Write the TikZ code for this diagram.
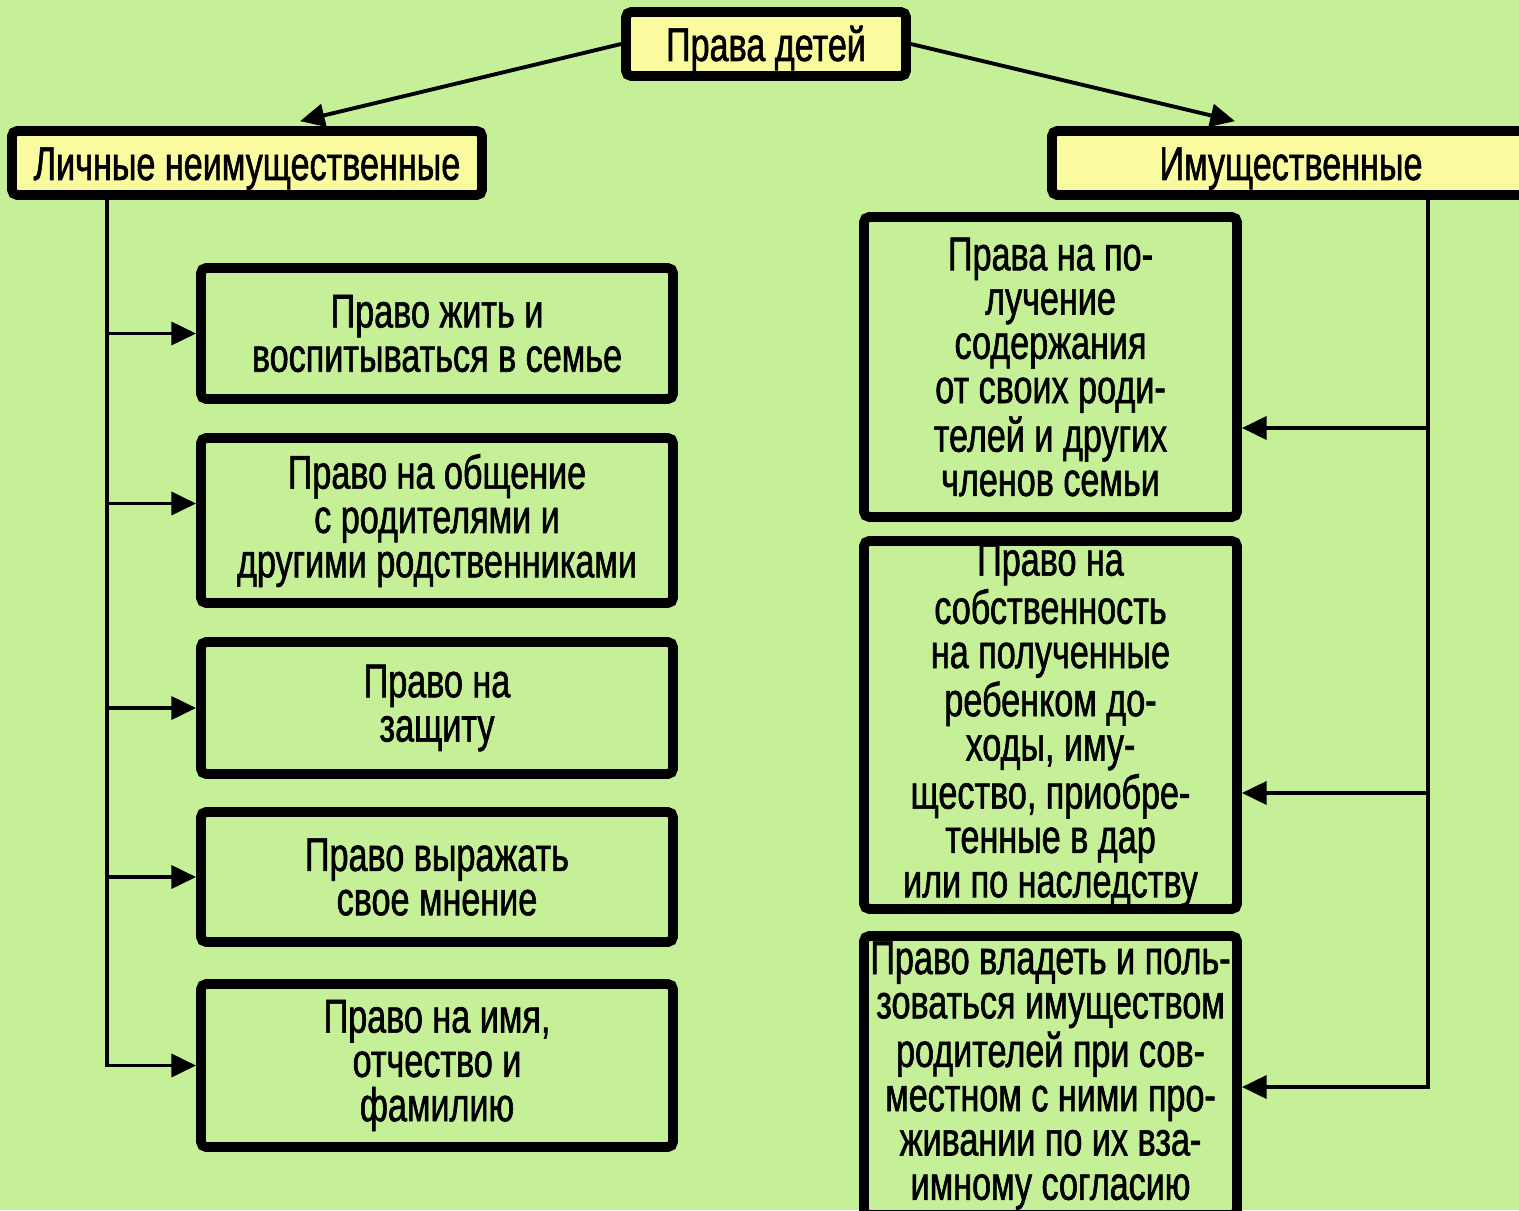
\documentclass[tikz,border=0pt]{standalone}
\usepackage{fontspec}
\setmainfont[FakeStretch=0.72,FakeBold=1.2]{Liberation Sans}
\usepackage{tikz}
\usepackage{xcolor}
\usetikzlibrary{arrows.meta}
\definecolor{bggreen}{RGB}{198,240,152}
\definecolor{hdryellow}{RGB}{250,250,158}
\tikzstyle{hdr} = [rectangle, draw, line width=2.8pt, fill=hdryellow, rounded corners=1.5pt, minimum height=0.64cm, inner sep=0pt, text height=0.42cm, text depth=0.08cm]
\tikzstyle{item} = [rectangle, draw, line width=2.8pt, rounded corners=1.5pt, align=center, inner sep=0pt]

\begin{document}
\begin{tikzpicture}[->,>={Triangle[length=7pt,width=6.5pt]},line width=1.1pt,node distance=1.87cm,font=\fontsize{13.5}{12.6}\selectfont]
  \fill[bggreen] (0,0) rectangle (15.19,-12.10);
  \useasboundingbox (0,0) rectangle (15.19,-12.10);

  \node[hdr, minimum width=2.80cm] (top) at (7.66,-0.44) {Права детей};
  \node[hdr, minimum width=4.70cm] (lhead) at (2.47,-1.63) {Личные неимущественные};
  \node[hdr, minimum width=4.78cm] (rhead) at (12.91,-1.63) {Имущественные};

  \node[item, minimum width=4.72cm, minimum height=1.31cm] (b1) at (4.37,-3.335) {Право жить и\\воспитываться в семье};
  \node[item, minimum width=4.72cm, minimum height=1.65cm] (b2) [below of=b1, node distance=1.87cm] {Право на общение\\с родителями и\\другими родственниками};
  \node[item, minimum width=4.72cm, minimum height=1.32cm] (b3) [below of=b2, node distance=1.875cm] {Право на\\защиту};
  \node[item, minimum width=4.72cm, minimum height=1.30cm] (b4) [below of=b3, node distance=1.69cm] {Право выражать\\свое мнение};
  \node[item, minimum width=4.72cm, minimum height=1.63cm] (b5) [below of=b4, node distance=1.885cm] {Право на имя,\\отчество и\\фамилию};

  \node[item, minimum width=3.73cm, minimum height=3.00cm] (r1) at (10.505,-3.67) {Права на по-\\лучение\\содержания\\от своих роди-\\телей и других\\членов семьи};
  \node[item, minimum width=3.73cm, minimum height=3.68cm] (r2) [below of=r1, node distance=3.58cm] {Право на\\собственность\\на полученные\\ребенком до-\\ходы, иму-\\щество, приобре-\\тенные в дар\\или по наследству};
  \node[item, minimum width=3.73cm, minimum height=2.79cm] (r3) [below of=r2, node distance=3.505cm] {Право владеть и поль-\\зоваться имуществом\\родителей при сов-\\местном с ними про-\\живании по их вза-\\имному согласию};

  \coordinate (ltrunk) at (1.07,-1.95);
  \coordinate (rtrunk) at (14.28,-1.95);

  \draw (top.west) -- ([xshift=0.53cm,yshift=1.4pt]lhead.north);
  \draw (top.east) -- ([xshift=-0.56cm,yshift=1.4pt]rhead.north);

  \draw (ltrunk) |- (b1);
  \draw (ltrunk) |- ([yshift=0.17cm]b2.west);
  \draw (ltrunk) |- (b3);
  \draw (ltrunk) |- (b4);
  \draw (ltrunk) |- (b5);

  \draw (rtrunk) |- ([yshift=-0.61cm]r1.east);
  \draw (rtrunk) |- ([yshift=-0.68cm]r2.east);
  \draw (rtrunk) |- ([yshift=-0.115cm]r3.east);
\end{tikzpicture}
\end{document}
